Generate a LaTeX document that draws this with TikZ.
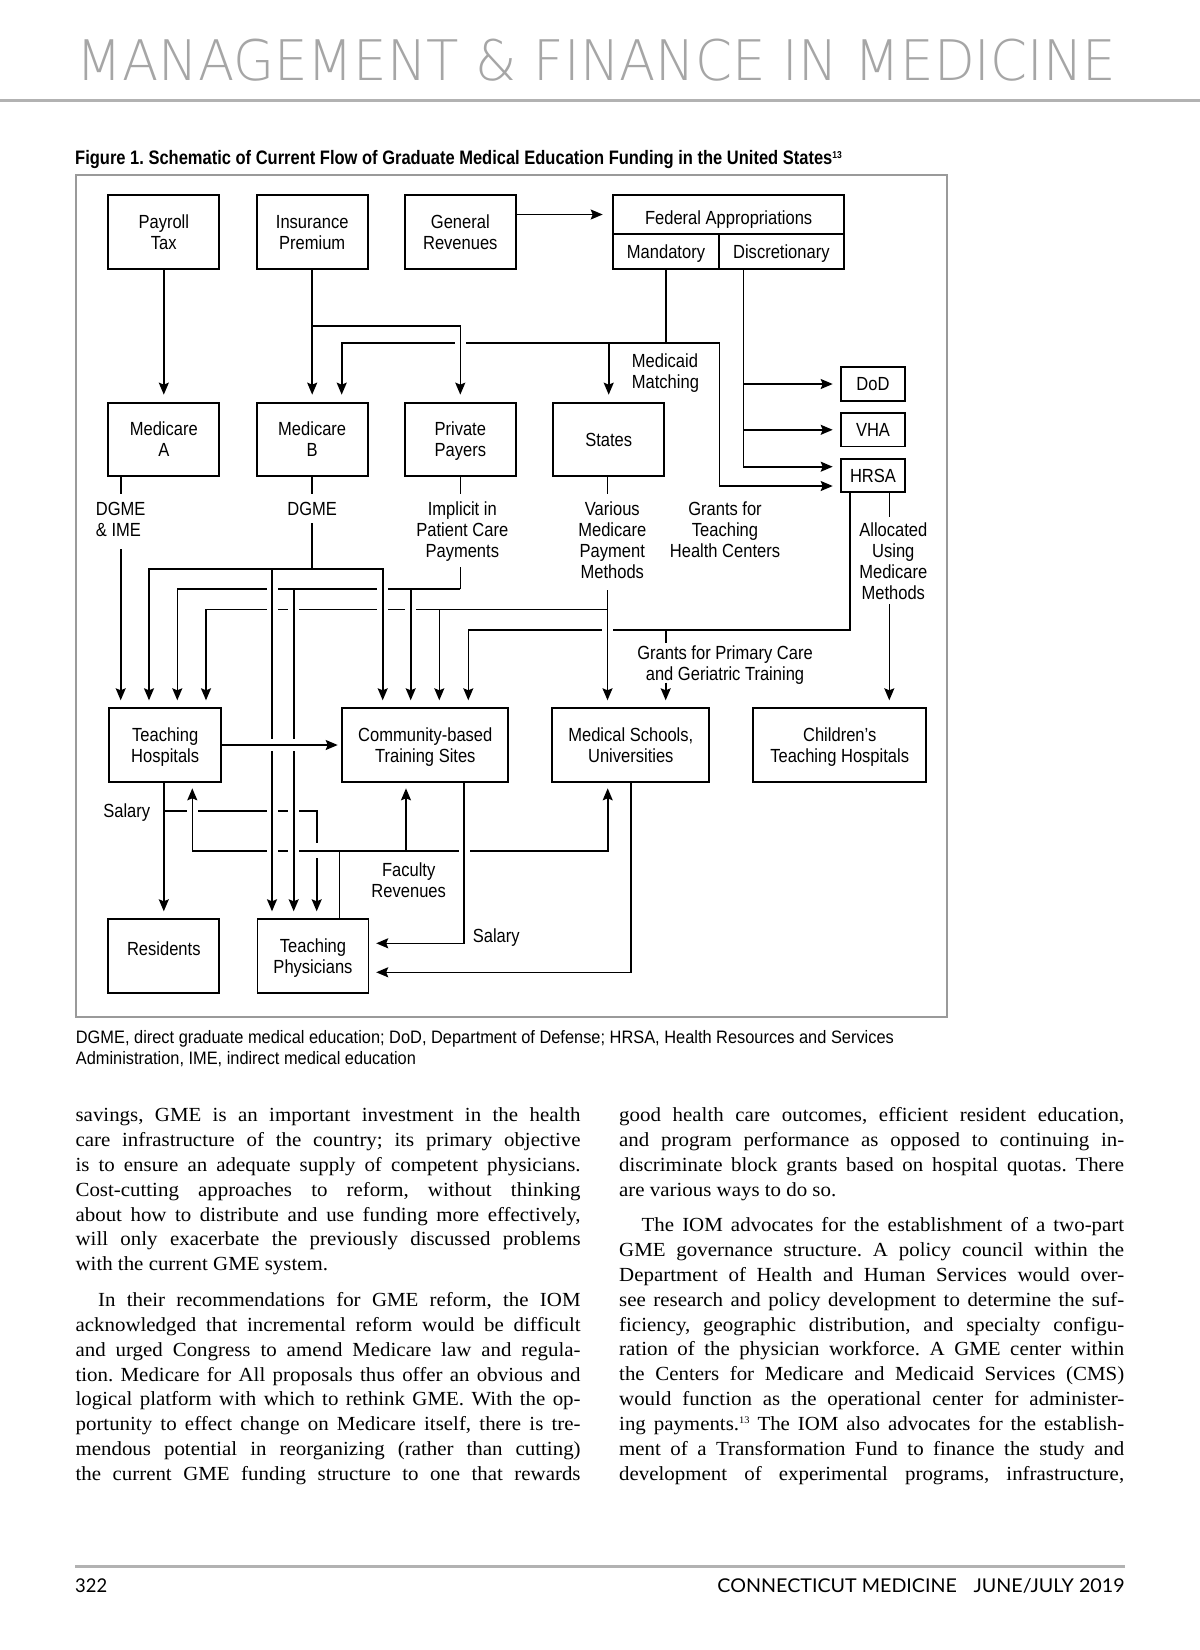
\documentclass[tikz,border=0pt]{standalone}
\usepackage{fontspec}
\usepackage{graphicx}
\usetikzlibrary{arrows.meta}
\setmainfont{Liberation Serif}
\frenchspacing
\newfontfamily\dfontfam{Liberation Sans}[FakeStretch=0.87]
\newfontfamily\bodyfam{Liberation Serif}[FakeStretch=1.045]
\newfontfamily\ftfont{Lato}
\IfFontExistsTF{DejaVu Sans ExtraLight}{\newfontfamily\hdfont{DejaVu Sans ExtraLight}}{\newfontfamily\hdfont{Lato}}
\newcommand\dfont{\dfontfam\fontsize{19}{21}\selectfont}
\newcommand\bodyf{\bodyfam\fontsize{20}{24}\selectfont\frenchspacing}
\newcommand\mlc[1]{\begin{tabular}[t]{@{}c@{}}#1\end{tabular}}
\newcommand\mll[1]{\begin{tabular}[t]{@{}l@{}}#1\end{tabular}}
\newcommand\jl[1]{\makebox[505pt][s]{#1}}
\newcommand\ji[1]{\makebox[482.5pt][s]{#1}}
\definecolor{hdgray}{HTML}{A6A6A6}
\definecolor{rulegray}{HTML}{B2B2B2}
\definecolor{framegray}{HTML}{9A9A9A}
\newcommand\hbrk[2]{\fill[white] ({#1-5.5},{#2-2.3}) rectangle ({#1+5.5},{#2+2.3}); \draw[ln] (#1,{#2-7}) -- (#1,{#2+7});}
\newcommand\vbrk[3]{\fill[white] ({#1-2.3},{#2-#3}) rectangle ({#1+2.3},{#2+#3}); \draw[ln] ({#1-9},#2) -- ({#1+9},#2);}
\begin{document}
\begin{tikzpicture}[x=1pt,y=-1pt,
 ln/.style={line width=1.6pt},
 arr/.style={ln,-{Stealth[length=12pt,width=10pt,inset=2pt]},shorten >=8pt},
 bx/.style={draw,line width=1.9pt,inner sep=0pt,outer sep=0pt,text height=13.6pt,text depth=0pt,font=\dfont},
 b2/.style={bx,text depth=21pt},
 lbl/.style={inner sep=0pt,font=\dfont,anchor=base},
 body/.style={anchor=base west,inner sep=0pt,font=\bodyf}]
\fill[white] (0,0) rectangle (1200,1650);
\useasboundingbox (0,0) rectangle (1200,1650);

% header
\node[anchor=base west,inner sep=0pt,text=hdgray] (hd) at (76.3,80.5) {\resizebox{1039.4pt}{41.5pt}{\hdfont MANAGEMENT \& FINANCE IN MEDICINE}};
\draw[rulegray,line width=3pt] (0,100) -- (1200,100);

% title
\node[anchor=base west,inner sep=0pt] (title) at (75,164.5) {\resizebox{766.6pt}{\height}{\dfontfam\bfseries\fontsize{19.5}{20}\selectfont Figure 1. Schematic of Current Flow of Graduate Medical Education Funding in the United States\raisebox{6.5pt}{\fontsize{10}{10}\selectfont 13}}};

% frame
\draw[framegray,line width=2.2pt] (75.7,175) rectangle (946.7,1016.7);

% boxes
\node[b2,minimum width=111pt,minimum height=74pt] (payroll) at (163.8,232) {\mlc{Payroll\\Tax}};
\node[b2,minimum width=111pt,minimum height=74pt] (ins) at (312.2,232) {\mlc{Insurance\\Premium}};
\node[b2,minimum width=111pt,minimum height=74pt] (gen) at (460.3,232) {\mlc{General\\Revenues}};
\node[bx,minimum width=230.7pt,minimum height=39pt] (fedtop) at (728.65,214.5) {\raisebox{-3.5pt}{Federal Appropriations}};
\node[bx,minimum width=105.4pt,minimum height=35.3pt] (mand) at (666,251.65) {Mandatory};
\node[bx,minimum width=125.3pt,minimum height=35.3pt] (disc) at (781.35,251.65) {Discretionary};
\node[bx,minimum width=64.6pt,minimum height=33.4pt] (dod) at (873,384) {DoD};
\node[bx,minimum width=64.6pt,minimum height=33.4pt] (vha) at (873,429.8) {VHA};
\node[bx,minimum width=64.6pt,minimum height=33pt] (hrsa) at (873,475.2) {HRSA};
\node[b2,minimum width=111pt,minimum height=73.3pt] (medA) at (163.8,439.3) {\mlc{Medicare\\A}};
\node[b2,minimum width=111pt,minimum height=73.3pt] (medB) at (312.2,439.3) {\mlc{Medicare\\B}};
\node[b2,minimum width=111pt,minimum height=73.3pt] (pp) at (460.3,439.3) {\mlc{Private\\Payers}};
\node[bx,minimum width=110.7pt,minimum height=73.3pt] (states) at (608.7,439.3) {States};
\node[b2,minimum width=111.7pt,minimum height=73.4pt] (th) at (165.2,745) {\mlc{Teaching\\Hospitals}};
\node[b2,minimum width=166pt,minimum height=73.4pt] (cbts) at (425.3,745) {\mlc{Community-based\\Training Sites}};
\node[b2,minimum width=157pt,minimum height=73.4pt] (ms) at (630.8,745) {\mlc{Medical Schools,\\Universities}};
\node[b2,minimum width=172.7pt,minimum height=73.4pt] (cth) at (839.7,745) {\mlc{Children’s\\Teaching Hospitals}};
\node[bx,text depth=15pt,minimum width=111pt,minimum height=73.4pt] (res) at (163.8,956) {Residents};
\node[b2,minimum width=111pt,minimum height=73.4pt] (tp) at (313,956) {\mlc{Teaching\\Physicians}};

% labels
\node[lbl,anchor=base west] (lA) at (95.7,515.1) {\mll{DGME\\\& IME}};
\node[lbl] (lB) at (312.2,515.1) {DGME};
\node[lbl] (lP) at (462.3,515.1) {\mlc{Implicit in\\Patient Care\\Payments}};
\node[lbl] (lS) at (612.3,515.8) {\mlc{Various\\Medicare\\Payment\\Methods}};
\node[lbl] (lT) at (725,515.8) {\mlc{Grants for\\Teaching\\Health Centers}};
\node[lbl] (lH) at (893.3,536.1) {\mlc{Allocated\\Using\\Medicare\\Methods}};
\node[lbl] (lG) at (725,659.5) {\mlc{Grants for Primary Care\\and Geriatric Training}};
\node[lbl,anchor=base west] (lM) at (631.7,367.5) {\mll{Medicaid\\Matching}};
\node[lbl,anchor=base east] (lSal1) at (150.4,817.5) {Salary};
\node[lbl,anchor=base west] (lSal2) at (472.6,942.5) {Salary};
\node[lbl] (lF) at (408.7,876.1) {\mlc{Faculty\\Revenues}};

% connectors: top
\draw[arr] (payroll.south) -- (medA.north);
\draw[arr] (ins.south) -- (medB.north);
\coordinate (j1) at (312.2,326);
\draw[arr] (j1) -| (pp.north);
\coordinate (m1) at (666,343);
\draw[ln] (mand.south) -- (m1);
\draw[arr] (m1) -| (341.7,0 |- medB.north);
\draw[arr] (m1 -| states.north) -- (states.north);
\draw[arr] (m1) -- (719.3,343) -- (719.3,486) -- (hrsa.west |- 0,486);
\coordinate (d0) at (743.3,0 |- disc.south);
\draw[arr] (d0) |- (hrsa.west |- 0,466.7);
\draw[arr] (d0 |- dod.west) -- (dod.west);
\draw[arr] (d0 |- vha.west) -- (vha.west);
\draw[arr,shorten >=10.6pt] (gen.east |- fedtop.west) -- (fedtop.west);

% DGME & IME
\coordinate (a1) at (120.7,0 |- medA.south);
\draw[ln] (a1) -- (120.7,494.3);
\draw[arr] (120.7,549.3) -- (120.7,0 |- th.north);
% DGME (B)
\draw[ln] (medB.south) -- (312.2,494.3);
\coordinate (jb) at (312.2,568.7);
\draw[ln] (312.2,523.3) -- (jb);
\draw[arr] (jb) -| (149,0 |- th.north);
\draw[arr] (jb) -| (382.7,0 |- cbts.north);
\draw[arr] (272,568.7) -- (272,0 |- tp.north);
% private payers
\draw[ln] (pp.south) -- (460.3,494.3);
\coordinate (jp) at (460.3,589);
\draw[ln] (460.3,567.3) -- (jp);
\draw[arr] (jp) -| (177.3,0 |- th.north);
\draw[arr] (410.7,589) -- (410.7,0 |- cbts.north);
\draw[arr] (293.7,589) -- (293.7,0 |- tp.north);
% states
\draw[ln] (607.5,0 |- states.south) -- (607.5,494.3);
\coordinate (js) at (607.5,609.3);
\draw[arr] (607.5,590) -- (607.5,0 |- ms.north);
\draw[arr] (js) -| (206,0 |- th.north);
\draw[arr] (439.3,609.3) -- (439.3,0 |- cbts.north);
% HRSA
\draw[arr] (850,0 |- hrsa.south) -- (850,630) -| (468.3,0 |- cbts.north);
\draw[ln] (665.7,630) -- (665.7,642.7);
\draw[arr] (665.7,682.7) -- (665.7,0 |- ms.north);
\draw[ln] (889.3,0 |- hrsa.south) -- (889.3,516.7);
\draw[arr] (889.3,604) -- (889.3,0 |- cth.north);
% teaching hospitals
\draw[arr,shorten >=4.6pt] (th.east) -- (cbts.west);
\draw[arr] (163.8,0 |- th.south) -- (res.north);
\coordinate (js2) at (163.8,810.7);
\draw[arr] (js2) -| (316.7,0 |- tp.north);
% faculty revenues
\coordinate (jf) at (339.3,850.7);
\draw[ln] (339.3,0 |- tp.north) -- (jf);
\draw[arr,shorten >=6.6pt] (jf) -| (192.3,0 |- th.south);
\draw[arr,shorten >=6.6pt] (jf) -| (607.7,0 |- ms.south);
\draw[arr,shorten >=6.6pt] (406,850.7) -- (406,0 |- cbts.south);
% salaries
\draw[arr,shorten >=7.7pt] (464.2,0 |- cbts.south) |- (tp.east |- 0,943.3);
\draw[arr,shorten >=7.7pt] (630.7,0 |- ms.south) |- (tp.east |- 0,972.3);

% line crossings
\hbrk{460.3}{343}
\hbrk{272}{589} \hbrk{382.7}{589}
\hbrk{272}{609.3} \hbrk{293.7}{609.3} \hbrk{382.7}{609.3} \hbrk{410.7}{609.3}
\hbrk{607.5}{630}
\hbrk{192.3}{810.7} \hbrk{272}{810.7} \hbrk{293.7}{810.7}
\hbrk{272}{850.7} \hbrk{293.7}{850.7} \hbrk{464.2}{850.7}
\vbrk{272}{745}{6.3} \vbrk{293.7}{745}{6.3} \vbrk{316.7}{850.7}{7.5}

% caption
\node[anchor=base west,inner sep=0pt] (cap1) at (75.7,1043.5) {\resizebox{818pt}{\height}{\dfontfam\fontsize{18}{21}\selectfont DGME, direct graduate medical education; DoD, Department of Defense; HRSA, Health Resources and Services}};
\node[anchor=base west,inner sep=0pt] (cap2) at (75.7,1064.5) {\resizebox{340pt}{\height}{\dfontfam\fontsize{18}{21}\selectfont Administration, IME, indirect medical education}};

% body text, left column
\node[body] (b1) at (75.4,1121.7) {\jl{savings, GME is an important investment in the health}};
\node[body] (b2) at (75.4,1146.5) {\jl{care infrastructure of the country; its primary objective}};
\node[body] (b3) at (75.4,1171.4) {\jl{is to ensure an adequate supply of competent physicians.}};
\node[body] (b4) at (75.4,1196.2) {\jl{Cost-cutting approaches to reform, without thinking}};
\node[body] (b5) at (75.4,1221.0) {\jl{about how to distribute and use funding more effectively,}};
\node[body] (b6) at (75.4,1245.9) {\jl{will only exacerbate the previously discussed problems}};
\node[body] (b7) at (75.4,1270.7) {with the current GME system.};
\node[body] (b8) at (97.9,1306.7) {\ji{In their recommendations for GME reform, the IOM}};
\node[body] (b9) at (75.4,1331.5) {\jl{acknowledged that incremental reform would be difficult}};
\node[body] (b10) at (75.4,1356.2) {\jl{and urged Congress to amend Medicare law and regula-}};
\node[body] (b11) at (75.4,1381.0) {\jl{tion. Medicare for All proposals thus offer an obvious and}};
\node[body] (b12) at (75.4,1405.7) {\jl{logical platform with which to rethink GME. With the op-}};
\node[body] (b13) at (75.4,1430.5) {\jl{portunity to effect change on Medicare itself, there is tre-}};
\node[body] (b14) at (75.4,1455.3) {\jl{mendous potential in reorganizing (rather than cutting)}};
\node[body] (b15) at (75.4,1480.0) {\jl{the current GME funding structure to one that rewards}};
% right column
\node[body] (c1) at (619,1121.7) {\jl{good health care outcomes, efficient resident education,}};
\node[body] (c2) at (619,1146.5) {\jl{and program performance as opposed to continuing in-}};
\node[body] (c3) at (619,1171.4) {\jl{discriminate block grants based on hospital quotas. There}};
\node[body] (c4) at (619,1196.2) {are various ways to do so.};
\node[body] (c5) at (641.5,1231.7) {\ji{The IOM advocates for the establishment of a two-part}};
\node[body] (c6) at (619,1256.5) {\jl{GME governance structure. A policy council within the}};
\node[body] (c7) at (619,1281.4) {\jl{Department of Health and Human Services would over-}};
\node[body] (c8) at (619,1306.2) {\jl{see research and policy development to determine the suf-}};
\node[body] (c9) at (619,1331.0) {\jl{ficiency, geographic distribution, and specialty configu-}};
\node[body] (c10) at (619,1355.9) {\jl{ration of the physician workforce. A GME center within}};
\node[body] (c11) at (619,1380.7) {\jl{the Centers for Medicare and Medicaid Services (CMS)}};
\node[body] (c12) at (619,1405.5) {\jl{would function as the operational center for administer-}};
\node[body] (c13) at (619,1430.3) {\jl{ing payments.\raisebox{7pt}{\fontsize{10}{10}\selectfont 13} The IOM also advocates for the establish-}};
\node[body] (c14) at (619,1455.2) {\jl{ment of a Transformation Fund to finance the study and}};
\node[body] (c15) at (619,1480.0) {\jl{development of experimental programs, infrastructure,}};

% footer
\draw[rulegray,line width=2.6pt] (75,1566.7) -- (1124.7,1566.7);
\node[anchor=base west,inner sep=0pt] (pg) at (75,1592.7) {\resizebox{32pt}{\height}{\ftfont\fontsize{19}{19}\selectfont 322}};
\node[anchor=base east,inner sep=0pt] (jr) at (1124.7,1592.7) {\resizebox{407pt}{\height}{\ftfont\fontsize{19}{19}\selectfont CONNECTICUT MEDICINE\hspace{16pt}JUNE/JULY 2019}};
\end{tikzpicture}
\end{document}
